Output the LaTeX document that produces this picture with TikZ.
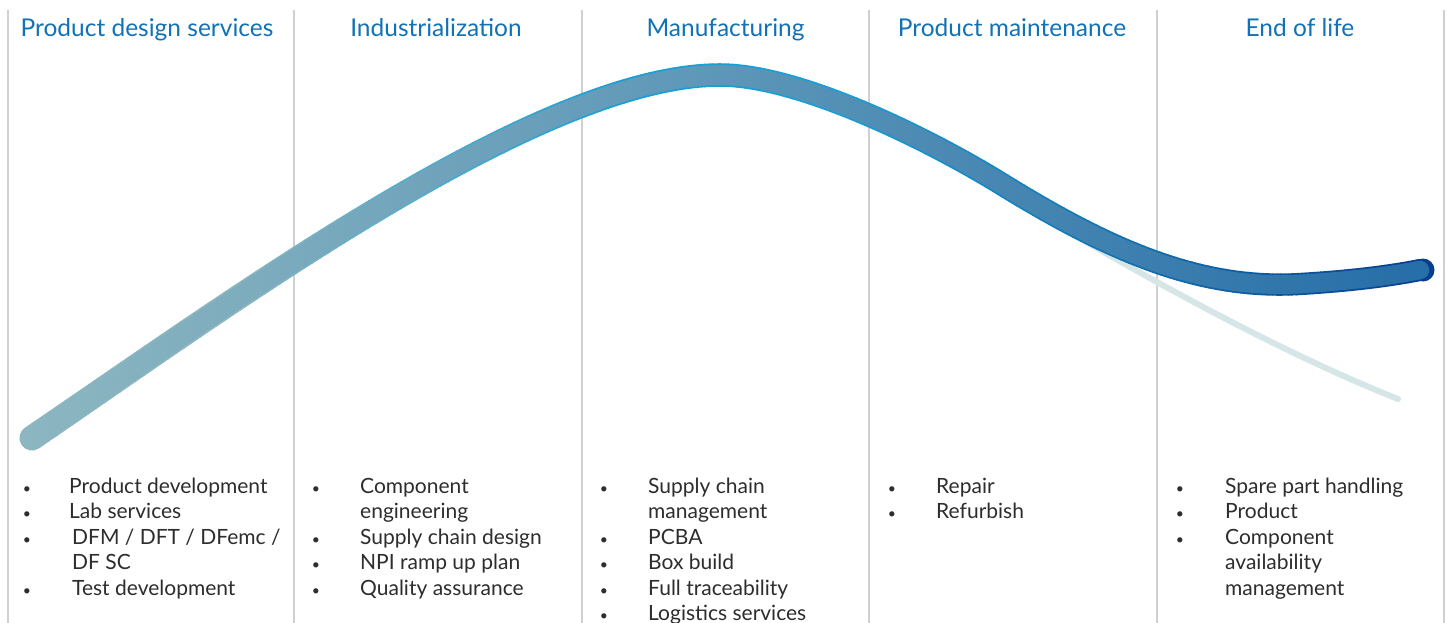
\documentclass[tikz,border=0pt]{standalone}
\usepackage{fontspec}
\setmainfont{Lato}
\definecolor{hdr}{RGB}{17,114,182}
\definecolor{txt}{RGB}{45,45,45}
\definecolor{divc}{RGB}{208,208,208}
\definecolor{fA}{RGB}{140,182,192}
\definecolor{fB}{RGB}{92,150,184}
\definecolor{fC}{RGB}{38,110,168}
\definecolor{oA}{RGB}{140,182,192}
\definecolor{oB}{RGB}{24,160,214}
\definecolor{oC}{RGB}{8,62,140}
\definecolor{ghost}{RGB}{214,230,230}
\tikzset{
  hd/.style={text=hdr, font=\fontsize{24.5}{29}\selectfont, anchor=base, inner sep=0pt},
  itm/.style={text=txt, font=\fontsize{21}{25}\selectfont, anchor=base west, inner sep=0pt},
  bul/.style={text=txt, font=\fontsize{14}{16}\selectfont, anchor=base, inner sep=0pt},
  divline/.style={draw=divc, line width=1.5pt},
  lifestroke/.style={line cap=round, line join=round},
}
\newcommand\lifecurve{(32,438) .. controls (232,302) and (540,75) .. (720,75)
  .. controls (800,75) and (930,140) .. (1000,183)
  .. controls (1110,251) and (1200,290) .. (1300,284)
  .. controls (1350,281) and (1390,276) .. (1420,270)}
\begin{document}
\begin{tikzpicture}[x=1pt,y=-1pt]
\useasboundingbox (0,0) rectangle (1451,623);
\fill[white] (0,0) rectangle (1451,623);
% column dividers
\foreach \xx/\nm in {8/d0,294/d1,582/d2,869/d3,1157/d4,1444/d5}{
  \coordinate (\nm t) at (\xx,10);
  \coordinate (\nm b) at (\xx,623);
  \draw[divline] (\nm t) -- (\nm b);
}
% headers
\node[hd] (h1) at (147,37) {Product design services};
\node[hd] (h2) at (436,37) {Industrialization};
\node[hd] (h3) at (725.5,37) {Manufacturing};
\node[hd] (h4) at (1012,37) {Product maintenance};
\node[hd] (h5) at (1300,37) {End of life};
% ghost decline curve
\coordinate (g0) at (1040,215);
\coordinate (g1) at (1398,399);
\draw[ghost, line width=6pt, line cap=round] (g0) .. controls (1150,280) and (1280,352) .. (g1);
% navy end cap
\coordinate (capc) at (1423,270);
\fill[oC] (capc) circle (11.5);
% main life-cycle curve: outline pass
\foreach \i in {0,...,181}{
  \pgfmathsetmacro\xa{\i*8}
  \pgfmathsetmacro\xb{\xa+8.6}
  \pgfmathsetmacro\s{min(1,max(0,(\xa+4-30)/1400))}
  \pgfmathsetmacro\wo{25-3*\s}
  \ifdim\s pt<0.15pt
    \colorlet{cc}{oA}%
  \else\ifdim\s pt<0.42pt
    \pgfmathsetmacro\pa{min(100,max(0,(\s-0.15)/0.27*100))}\colorlet{cc}{oB!\pa!oA}%
  \else\ifdim\s pt<0.58pt
    \colorlet{cc}{oB}%
  \else
    \pgfmathsetmacro\pa{min(100,max(0,(\s-0.58)/0.42*100))}\colorlet{cc}{oC!\pa!oB}%
  \fi\fi\fi
  \begin{scope}
    \clip (\xa,-5) rectangle (\xb,630);
    \draw[lifestroke, cc, line width=\wo pt] \lifecurve;
  \end{scope}
}
% main life-cycle curve: fill pass
\foreach \i in {0,...,181}{
  \pgfmathsetmacro\xa{\i*8}
  \pgfmathsetmacro\xb{\xa+8.6}
  \pgfmathsetmacro\s{min(1,max(0,(\xa+4-30)/1400))}
  \pgfmathsetmacro\wf{25-3*\s-3.6}
  \ifdim\s pt<0.5pt
    \pgfmathsetmacro\pa{min(100,max(0,\s/0.5*100))}\colorlet{cc}{fB!\pa!fA}%
  \else
    \pgfmathsetmacro\pa{min(100,max(0,(\s-0.5)/0.5*100))}\colorlet{cc}{fC!\pa!fB}%
  \fi
  \begin{scope}
    \clip (\xa,-5) rectangle (\xb,630);
    \draw[lifestroke, cc, line width=\wf pt] \lifecurve;
  \end{scope}
}
% column 1
\node[bul] (b11) at (27,493) {•}; \node[itm] (t11) at (69,493) {Product development};
\node[bul] (b12) at (27,518) {•}; \node[itm] (t12) at (69,518) {Lab services};
\node[bul] (b13) at (27,544) {•}; \node[itm] (t13) at (72,544) {DFM / DFT / DFemc /};
\node[itm] (t13b) at (72,569) {DF SC};
\node[bul] (b14) at (27,595) {•}; \node[itm] (t14) at (72,595) {Test development};
% column 2
\node[bul] (b21) at (316,493) {•}; \node[itm] (t21) at (360,493) {Component};
\node[itm] (t21b) at (360,518) {engineering};
\node[bul] (b22) at (316,544) {•}; \node[itm] (t22) at (360,544) {Supply chain design};
\node[bul] (b23) at (316,569) {•}; \node[itm] (t23) at (360,569) {NPI ramp up plan};
\node[bul] (b24) at (316,595) {•}; \node[itm] (t24) at (360,595) {Quality assurance};
% column 3
\node[bul] (b31) at (604,493) {•}; \node[itm] (t31) at (648,493) {Supply chain};
\node[itm] (t31b) at (648,518) {management};
\node[bul] (b32) at (604,544) {•}; \node[itm] (t32) at (648,544) {PCBA};
\node[bul] (b33) at (604,569) {•}; \node[itm] (t33) at (648,569) {Box build};
\node[bul] (b34) at (604,595) {•}; \node[itm] (t34) at (648,595) {Full traceability};
\node[bul] (b35) at (604,620) {•}; \node[itm] (t35) at (648,620) {Logistics services};
% column 4
\node[bul] (b41) at (892,493) {•}; \node[itm] (t41) at (936,493) {Repair};
\node[bul] (b42) at (892,518) {•}; \node[itm] (t42) at (936,518) {Refurbish};
% column 5
\node[bul] (b51) at (1180,493) {•}; \node[itm] (t51) at (1225,493) {Spare part handling};
\node[bul] (b52) at (1180,518) {•}; \node[itm] (t52) at (1225,518) {Product};
\node[bul] (b53) at (1180,544) {•}; \node[itm] (t53) at (1225,544) {Component};
\node[itm] (t53b) at (1225,569) {availability};
\node[itm] (t53c) at (1225,595) {management};
\end{tikzpicture}
\end{document}
